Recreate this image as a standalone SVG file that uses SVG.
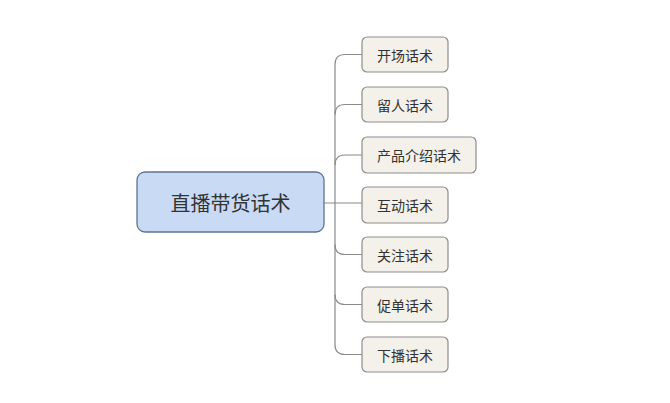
<svg xmlns="http://www.w3.org/2000/svg" width="670" height="403" viewBox="0 0 670 403">
<style>
.root rect{fill:#c8daf4;stroke:#5f7394;stroke-width:1.3}
.root text{font-family:"Noto Sans CJK SC","Noto Sans",sans-serif;font-size:20px;fill:#333;text-anchor:middle;dominant-baseline:central}
.child rect{fill:#f4f0ea;stroke:#8e8e8e;stroke-width:1.2}
.child text{font-family:"Noto Sans CJK SC","Noto Sans",sans-serif;font-size:14px;fill:#333;text-anchor:middle;dominant-baseline:central}
.conn path{fill:none;stroke:#8a8a8a;stroke-width:1.2}
</style>
<rect width="670" height="403" fill="#ffffff"/>
<g id="connectors" class="conn">
<path d="M324 203 H362"/>
<path d="M362 54.5 H345 Q335 54.5 335 64.5 V344.5 Q335 354.5 345 354.5 H362"/>
<path d="M362 104.5 H345 Q335 104.5 335 114.5"/>
<path d="M362 155 H345 Q335 155 335 165"/>
<path d="M335 244.5 Q335 254.5 345 254.5 H362"/>
<path d="M335 294.5 Q335 304.5 345 304.5 H362"/>
</g>
<g id="root" class="root">
<rect x="137" y="172" width="187" height="60" rx="8"/>
<text x="230.5" y="202">直播带货话术</text>
</g>
<g id="n1" class="child"><rect x="362" y="37" width="86" height="35" rx="5"/><text x="405" y="54.5">开场话术</text></g>
<g id="n2" class="child"><rect x="362" y="87" width="86" height="35" rx="5"/><text x="405" y="104.5">留人话术</text></g>
<g id="n3" class="child"><rect x="362" y="137" width="114" height="36" rx="5"/><text x="419" y="155">产品介绍话术</text></g>
<g id="n4" class="child"><rect x="362" y="187" width="86" height="36" rx="5"/><text x="405" y="205">互动话术</text></g>
<g id="n5" class="child"><rect x="362" y="237" width="86" height="35" rx="5"/><text x="405" y="254.5">关注话术</text></g>
<g id="n6" class="child"><rect x="362" y="287" width="86" height="35" rx="5"/><text x="405" y="304.5">促单话术</text></g>
<g id="n7" class="child"><rect x="362" y="337" width="86" height="35" rx="5"/><text x="405" y="354.5">下播话术</text></g>
</svg>
